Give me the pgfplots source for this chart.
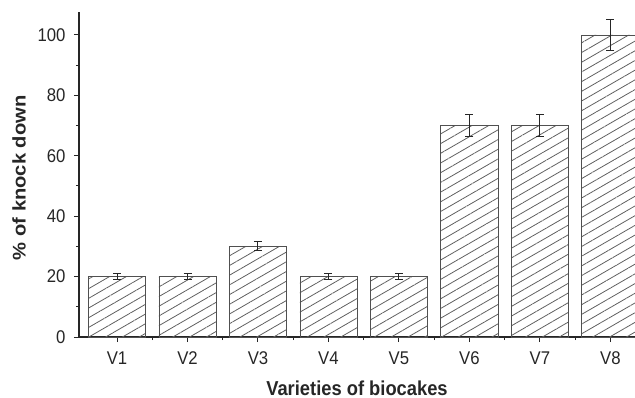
\documentclass[border=0pt]{standalone}
\usepackage{pgfplots}
\pgfplotsset{compat=1.18}
\usepackage{fontspec}
\setmainfont{Liberation Sans}
\usetikzlibrary{patterns.meta}
\definecolor{txt}{HTML}{262626}
\definecolor{barline}{HTML}{505050}
\definecolor{hatch}{HTML}{606060}
\begin{document}
\begin{tikzpicture}
\begin{axis}[
 width=556bp, height=325bp, scale only axis,
 xmin=-0.54, xmax=7.35, ymin=0, ymax=107.6,
 axis x line=bottom, axis y line=left,
 axis line style={-, line width=1.4bp, color=txt},
 xtick={0,...,7},
 xticklabels={\scalebox{1}[1.1]{V1},\scalebox{1}[1.1]{V2},\scalebox{1}[1.1]{V3},\scalebox{1}[1.1]{V4},\scalebox{1}[1.1]{V5},\scalebox{1}[1.1]{V6},\scalebox{1}[1.1]{V7},\scalebox{1}[1.1]{V8}},
 minor xtick={0.5,1.5,...,6.5},
 ytick={0,20,...,100}, minor ytick={10,30,...,90},
 yticklabel={\scalebox{1}[1.1]{\pgfmathprintnumber{\tick}}},
 tick align=outside, major tick length=5bp, minor tick length=3bp,
 tick style={line width=1bp, color=txt},
 tick label style={color=txt, font=\fontsize{16.8}{20}\selectfont},
 /pgf/number format/assume math mode=true,
 xticklabel style={yshift=-6bp},
 yticklabel style={xshift=-5bp},
 xlabel={\scalebox{1}[1.1]{\bfseries Varieties of biocakes}},
 ylabel={\scalebox{1.1}[1]{\bfseries \% of knock down}},
 label style={color=txt, font=\fontsize{18.4}{22}\selectfont},
 xlabel style={at={(rel axis cs:0.5,0)}, anchor=base, yshift=-58bp},
 ylabel style={at={(rel axis cs:0,0.49)}, anchor=center, yshift=60bp},
 clip=false,
]
\addplot[ybar, bar width=0.81, draw=barline, line width=0.8bp,
  pattern={Lines[angle=30, distance=8.4bp, line width=0.8bp]}, pattern color=hatch,
  error bars/.cd, y dir=both, y explicit,
  error bar style={line width=1bp, color=txt},
  error mark options={rotate=90, mark size=4bp, line width=1bp, color=txt}]
 coordinates {
 (0,20) +- (0,1)
 (1,20) +- (0,1)
 (2,30) +- (0,1.5)
 (3,20) +- (0,1)
 (4,20) +- (0,1)
 (5,70) +- (0,3.5)
 (6,70) +- (0,3.5)
 (7,100) +- (0,5)
 };
\coordinate (sw) at (rel axis cs:0,0);
\coordinate (ne) at (rel axis cs:1,1);
\end{axis}
\pgfresetboundingbox
\path ([xshift=-79bp,yshift=-61bp]sw) rectangle ([yshift=12bp]ne);
\end{tikzpicture}
\end{document}
